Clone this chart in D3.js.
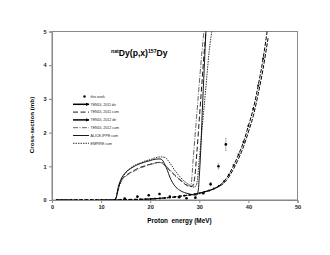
<!DOCTYPE html>
<html><head><meta charset="utf-8">
<script src="https://cdn.jsdelivr.net/npm/d3@7"></script>
<style>html,body{margin:0;padding:0;background:#fff;}svg{display:block;}text{font-family:"Liberation Sans",Arial,sans-serif;}</style>
</head><body><div id="chart"></div>
<script>
// ---- data ----
const expE   = [14.8, 17.4, 19.7, 21.9, 24.0, 25.9, 27.4, 29.2, 30.8, 32.3, 33.9, 35.4];
const expSig = [0.04, 0.10, 0.14, 0.18, 0.10, 0.08, 0.05, 0.07, 0.20, 0.47, 1.00, 1.65];
const expErr = [0.01, 0.01, 0.02, 0.02, 0.01, 0.01, 0.01, 0.01, 0.02, 0.05, 0.08, 0.18];

const dirE      = [1,2,3,4,5,6,7,8,9,10,11,12,13,14,15,16,17,18,19,20,21,22,23,24,25,26,27,28,29,30,31,32,33,34,35,36,37,38,39,40,41,42,43,44];
const tendl11Dir = [0,0,0,0,0,0,0,0,0,0,0,0,0,0.005,0.01,0.01,0.015,0.02,0.025,0.03,0.04,0.05,0.06,0.075,0.09,0.11,0.13,0.15,0.17,0.2,0.24,0.28,0.34,0.42,0.55,0.75,1.03,1.35,1.72,2.2,2.71,3.4,4.2,5.2];
const tendl12Dir = [0,0,0,0,0,0,0,0,0,0,0,0,0,0.005,0.01,0.01,0.015,0.02,0.025,0.03,0.04,0.05,0.06,0.075,0.09,0.11,0.13,0.15,0.17,0.2,0.24,0.28,0.33,0.4,0.5,0.68,0.93,1.23,1.58,2.02,2.5,3.15,3.9,4.8];

const aliceE   = [12.5,13,13.5,14,15,16,17,18,19,20,21,22,22.5,23,23.5,24,25,26,27,28,29,29.5,29.8,30,30.3,30.6,31,31.4];
const aliceSig = [0,0.05,0.39,0.6,0.82,0.93,1.02,1.08,1.13,1.17,1.21,1.22,1.18,1.05,0.88,0.68,0.42,0.29,0.22,0.18,0.15,0.15,0.3,0.7,1.5,2.6,3.9,5.2];

const t11CumE   = [12.5,13,13.5,14,15,16,17,18,19,20,21,22,22.5,23,24,25,26,27,28,28.5,29,29.5,30,30.5,31,31.5];
const t11CumSig = [0,0.05,0.35,0.55,0.72,0.82,0.9,0.97,1.02,1.06,1.1,1.12,1.1,1.02,0.88,0.73,0.6,0.48,0.4,0.4,0.6,1.4,2.4,3.4,4.4,5.2];

const t12CumE   = [12.5,13,13.5,14,15,16,17,18,19,20,21,22,22.5,23,24,25,26,27,28,28.3,28.8,29.3,29.8,30.3,30.8,31.1];
const t12CumSig = [0,0.05,0.33,0.52,0.7,0.8,0.88,0.95,1.0,1.05,1.09,1.11,1.1,1.04,0.9,0.75,0.62,0.5,0.42,0.45,1.3,2.2,3.1,4.0,4.8,5.2];

const empireE   = [12.5,13,13.5,14,15,16,17,18,19,20,21,22,23,24,25,26,27,28,29,29.5,30,30.5,31,31.5,32,32.8];
const empireSig = [0,0.05,0.3,0.55,0.8,0.95,1.04,1.1,1.16,1.2,1.25,1.28,1.26,1.1,0.88,0.7,0.55,0.45,0.38,0.5,1.2,2.0,2.8,3.6,4.4,5.2];

const xTicks = [0,10,20,30,40,50];
const yTicks = [0,1,2,3,4,5];
const legendLabels = ["this work","TENDL 2011 dir","TENDL 2011 cum","TENDL 2012 dir","TENDL 2012 cum","ALICE-IPPE cum","EMPIRE cum"];

// ---- drawing ----
const W = 330, H = 255;
const m = {l:52, r:32.5, t:31.5, b:55};
const svg = d3.select("#chart").append("svg").attr("width", W).attr("height", H);
const x = d3.scaleLinear().domain([0,50]).range([m.l, W - m.r]);
const y = d3.scaleLinear().domain([0,5]).range([H - m.b, m.t]);

svg.append("defs").append("clipPath").attr("id","clip")
  .append("rect").attr("x", m.l).attr("y", m.t).attr("width", W-m.l-m.r).attr("height", H-m.t-m.b);

// frame
svg.append("rect").attr("x", m.l).attr("y", m.t).attr("width", W-m.l-m.r).attr("height", H-m.t-m.b)
  .attr("fill","none").attr("stroke","#888").attr("stroke-width",1);

// axes
const fmt = d3.format("d");
const xAxis = svg.append("g").attr("transform",`translate(0,${H-m.b})`)
  .call(d3.axisBottom(x).tickValues(xTicks).tickFormat(fmt).tickSize(3).tickPadding(2));
const yAxis = svg.append("g").attr("transform",`translate(${m.l},0)`)
  .call(d3.axisLeft(y).tickValues(yTicks).tickFormat(fmt).tickSize(3).tickPadding(2.5));
[xAxis,yAxis].forEach(g=>{
  g.select(".domain").attr("stroke","#888");
  g.selectAll(".tick line").attr("stroke","#888");
  g.selectAll(".tick text").attr("font-size","5.6px").attr("font-weight","bold").attr("fill","#222")
    .attr("font-family","Liberation Sans, Arial, sans-serif");
});

// axis titles
svg.append("text").attr("x", 179.5).attr("y", 222.5).attr("text-anchor","middle")
  .attr("font-size","6.4px").attr("font-weight","bold").attr("xml:space","preserve")
  .text("Proton  energy (MeV)");
svg.append("text").attr("transform","translate(34,125) rotate(-90)").attr("text-anchor","middle")
  .attr("font-size","6.2px").attr("font-weight","bold").text("Cross-section (mb)");

// title
const t = svg.append("text").attr("x", 111).attr("y", 56).attr("font-size","8.6px").attr("font-weight","bold");
t.append("tspan").attr("font-size","5.2px").attr("dy","-3.2").text("nat");
t.append("tspan").attr("dy","3.2").text("Dy(p,x)");
t.append("tspan").attr("font-size","5.2px").attr("dy","-3.2").text("157");
t.append("tspan").attr("dy","3.2").text("Dy");

const line = d3.line().x(d=>x(d[0])).y(d=>y(d[1])).curve(d3.curveMonotoneX);
const plot = svg.append("g").attr("clip-path","url(#clip)");

const series = [
  {E:dirE, S:tendl11Dir, stroke:"#000", w:1.0, dash:"4,1.5"},
  {E:dirE, S:tendl12Dir, stroke:"#000", w:1.0, dash:"4,1.5"},
  {E:t11CumE, S:t11CumSig, stroke:"#000", w:0.9, dash:"5,2.5"},
  {E:t12CumE, S:t12CumSig, stroke:"#555", w:0.9, dash:"5,1.5,1,1.5"},
  {E:aliceE, S:aliceSig, stroke:"#000", w:0.9, dash:null},
  {E:empireE, S:empireSig, stroke:"#000", w:0.8, dash:"1.5,1"}
];
series.forEach(s=>{
  plot.append("path").datum(s.E.map((e,i)=>[e,s.S[i]]))
    .attr("d", line).attr("fill","none").attr("stroke", s.stroke)
    .attr("stroke-width", s.w).attr("stroke-dasharray", s.dash);
});
// markers on TENDL dir line
plot.selectAll(".mk").data(dirE.map((e,i)=>[e,tendl11Dir[i]])).enter().append("rect")
  .attr("x",d=>x(d[0])-0.9).attr("y",d=>y(d[1])-0.9).attr("width",1.8).attr("height",1.8).attr("fill","#000");

// experimental points
const ex = svg.append("g");
expE.forEach((e,i)=>{
  ex.append("line").attr("x1",x(e)).attr("x2",x(e)).attr("y1",y(expSig[i]-expErr[i])).attr("y2",y(expSig[i]+expErr[i]))
    .attr("stroke","#777").attr("stroke-width",0.5);
  [expSig[i]-expErr[i], expSig[i]+expErr[i]].forEach(v=>{
    ex.append("line").attr("x1",x(e)-0.8).attr("x2",x(e)+0.8).attr("y1",y(v)).attr("y2",y(v)).attr("stroke","#777").attr("stroke-width",0.5);
  });
  ex.append("circle").attr("cx",x(e)).attr("cy",y(expSig[i])).attr("r",1.3).attr("fill","#000");
});

// legend
const lg = svg.append("g");
const ly0 = 96.5, lstep = 7.8, lx0 = 73, lx1 = 89;
const lstyles = [null, series[0], series[2], series[1], series[3], series[4], series[5]];
legendLabels.forEach((lab,i)=>{
  const yy = ly0 + i*lstep;
  if(i===0){
    lg.append("circle").attr("cx",84.5).attr("cy",yy).attr("r",1.2).attr("fill","#000");
  } else {
    const s = lstyles[i];
    lg.append("line").attr("x1",lx0).attr("x2",lx1).attr("y1",yy).attr("y2",yy)
      .attr("stroke",s.stroke).attr("stroke-width",(i===1||i===3)?1.5:s.w).attr("stroke-dasharray", (i===1||i===3)?null:s.dash);
    if(i===1||i===3){
      lg.append("path").attr("d",`M${lx1-3},${yy-1.6}L${lx1+0.5},${yy}L${lx1-3},${yy+1.6}Z`).attr("fill","#000");
    }
  }
  lg.append("text").attr("x", 90.5).attr("y", yy+1.3).attr("font-size","3.6px").attr("fill","#222").text(lab);
});
</script></body></html>
